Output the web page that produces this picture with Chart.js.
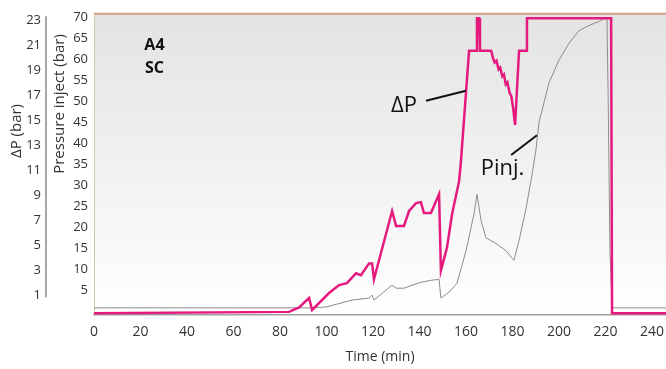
<!DOCTYPE html>
<html>
<head>
<meta charset="utf-8">
<script src="https://cdn.jsdelivr.net/npm/chart.js@4/dist/chart.umd.min.js"></script>
<style>
  html, body { margin: 0; padding: 0; background: #fff; }
  #wrap { width: 666px; height: 369px; }
</style>
</head>
<body>
<div id="wrap"><canvas id="chart" width="666" height="369"></canvas></div>
<script>
// time axis in minutes
const xTicks = [0, 20, 40, 60, 80, 100, 120, 140, 160, 180, 200, 220, 240]
const pinjTicks = [5, 10, 15, 20, 25, 30, 35, 40, 45, 50, 55, 60, 65, 70]
const dpTicks = [1, 3, 5, 7, 9, 11, 13, 15, 17, 19, 21, 23]

// ΔP (bar)
const dpTime = [0, 83.9, 88.2, 92.5, 93.8, 101.1, 105.4, 108.8, 112.7, 114.8, 118.3, 119.6, 120.4,
  128.2, 129.9, 133.3, 135.5, 138.5, 140.6, 141.9, 144.9, 148.4, 149.2, 151.8, 154.0, 157.0, 157.8,
  161.3, 164.3, 164.7, 165.6, 166.0, 170.8, 171.6, 172.3, 173.1, 174.0, 174.7, 175.6, 176.3,
  177.1, 177.8, 178.7, 179.5, 180.3, 181.1,
  182.8, 185.8, 186.2, 222.4, 222.8, 246]
const dpValues = [-0.45, -0.35, 0.0, 0.76, -0.2, 1.16, 1.79, 1.95, 2.74, 2.58, 3.53, 3.53, 2.26,
  7.72, 6.53, 6.53, 7.72, 8.35, 8.43, 7.56, 7.56, 9.07, 2.97, 4.79, 7.48, 10.09, 11.67,
  20.54, 20.54, 23.15, 23.15, 20.54, 20.54, 19.95, 19.6, 19.75, 19.05, 19.2, 18.5, 18.65,
  17.85, 18.0, 17.2, 16.9, 15.9, 14.6,
  20.54, 20.54, 23.15, 23.15, -0.45, -0.45]

// Pressure inject (bar), grey trace
const pinjTime = [0, 92.5, 99.8, 111.0, 118.3, 119.6, 120.4, 128.2, 129.9, 133.3, 135.5, 140.6,
  144.9, 148.4, 149.2, 152.7, 156.1, 160.0, 163.4, 164.7, 166.5, 168.6, 172.9, 177.2, 180.6,
  182.8, 185.8, 188.4, 190.1, 191.4, 195.7, 200.0, 204.3, 208.6, 212.9, 217.2, 219.4, 220.6,
  221.1, 221.9, 222.8, 246]
const pinjValues = [0.8, 0.8, 1.0, 2.66, 3.13, 3.83, 2.66, 6.18, 5.48, 5.48, 5.95, 6.89,
  7.36, 7.59, 3.13, 4.54, 6.65, 14.4, 23.1, 27.8, 21.5, 17.5, 16.1, 14.4, 12.1,
  16.8, 24.5, 32.5, 38.6, 45.0, 54.4, 59.8, 63.8, 66.8, 68.0, 69.0, 69.7, 69.7,
  52.0, 14.4, 0.8, 0.8]

const FONT = "'Open Sans', 'DejaVu Sans', sans-serif"

const toPoints = (xs, ys) => xs.map((x, i) => ({ x: x, y: ys[i] }))

const decor = {
  id: 'decor',
  beforeDraw(chart) {
    const { ctx, chartArea: a } = chart
    const g = ctx.createLinearGradient(0, a.top, 0, a.bottom)
    g.addColorStop(0, '#e3e3e3')
    g.addColorStop(1, '#ffffff')
    ctx.save()
    ctx.fillStyle = g
    ctx.fillRect(a.left, a.top, a.right - a.left, a.bottom - a.top)
    ctx.restore()
  },
  afterDraw(chart) {
    const { ctx, chartArea: a } = chart
    const x = chart.scales.x
    const yP = chart.scales.yPinj
    const yD = chart.scales.yDp
    ctx.save()
    // top frame line
    ctx.strokeStyle = '#cf9f86'
    ctx.lineWidth = 2
    ctx.beginPath()
    ctx.moveTo(a.left, a.top)
    ctx.lineTo(a.right, a.top)
    ctx.stroke()

    // ΔP axis line
    ctx.strokeStyle = '#8a8a8a'
    ctx.lineWidth = 1.5
    ctx.beginPath()
    ctx.moveTo(yD.right, yD.getPixelForValue(23.3))
    ctx.lineTo(yD.right, yD.getPixelForValue(0.8))
    ctx.stroke()

    // axis titles
    ctx.fillStyle = '#333'
    ctx.textAlign = 'center'
    ctx.textBaseline = 'middle'
    ctx.font = '15px ' + FONT
    ctx.save()
    ctx.translate(yD.left + 17, 131)
    ctx.rotate(-Math.PI / 2)
    ctx.fillText('ΔP (bar)', 0, 0)
    ctx.restore()
    ctx.save()
    ctx.translate(yP.left + 14, 104)
    ctx.rotate(-Math.PI / 2)
    ctx.fillText('Pressure inject (bar)', 0, 0)
    ctx.restore()

    // sample label
    ctx.fillStyle = '#111'
    ctx.font = 'bold 16px ' + FONT
    ctx.fillText('A4', x.getPixelForValue(26), yP.getPixelForValue(63.3))
    ctx.fillText('SC', x.getPixelForValue(26), yP.getPixelForValue(57.8))

    // series callouts
    ctx.font = '22px ' + FONT
    ctx.fillText('ΔP', x.getPixelForValue(133.3), yP.getPixelForValue(48.9))
    ctx.textAlign = 'left'
    ctx.fillText('Pinj.', x.getPixelForValue(166.3), yP.getPixelForValue(33.8))
    ctx.strokeStyle = '#111'
    ctx.lineWidth = 2
    ctx.beginPath()
    ctx.moveTo(x.getPixelForValue(142.8), yP.getPixelForValue(50.1))
    ctx.lineTo(x.getPixelForValue(160.0), yP.getPixelForValue(52.5))
    ctx.moveTo(x.getPixelForValue(179.4), yP.getPixelForValue(37.2))
    ctx.lineTo(x.getPixelForValue(190.5), yP.getPixelForValue(41.9))
    ctx.stroke()
    ctx.restore()
  }
}

const ctx = document.getElementById('chart').getContext('2d')
new Chart(ctx, {
  type: 'line',
  data: {
    datasets: [{
      label: 'ΔP',
      data: toPoints(dpTime, dpValues),
      yAxisID: 'yDp',
      borderColor: '#e41a7f',
      borderWidth: 2.5,
      pointRadius: 0,
      tension: 0
    }, {
      label: 'Pinj.',
      data: toPoints(pinjTime, pinjValues),
      yAxisID: 'yPinj',
      borderColor: '#8c8c8c',
      borderWidth: 1,
      pointRadius: 0,
      tension: 0
    }]
  },
  options: {
    responsive: false,
    animation: false,
    layout: { padding: { top: 10, right: 0, bottom: 0, left: 0 } },
    plugins: { legend: { display: false }, tooltip: { enabled: false } },
    scales: {
      x: {
        type: 'linear',
        min: 0,
        max: 246,
        afterBuildTicks: s => { s.ticks = xTicks.map(v => ({ value: v })) },
        afterFit: s => { s.height = 54; s.paddingLeft = 0; s.paddingRight = 0 },
        grid: { display: false, drawTicks: false },
        border: { display: true, color: '#a0a0a0', width: 1.5 },
        ticks: { padding: 9, color: '#333', font: { family: FONT, size: 14 } },
        title: {
          display: true, text: 'Time (min)', color: '#333',
          font: { family: FONT, size: 14 }, padding: { top: 2, bottom: 4 }
        }
      },
      yPinj: {
        type: 'linear',
        position: 'left',
        weight: 0,
        min: -0.9,
        max: 70.8,
        afterBuildTicks: s => { s.ticks = pinjTicks.map(v => ({ value: v })) },
        afterFit: s => { s.width = 48 },
        grid: { display: false, drawTicks: false },
        border: { display: true, color: '#d2cc9e', width: 1 },
        ticks: { padding: 6, color: '#333', font: { family: FONT, size: 13 } }
      },
      yDp: {
        type: 'linear',
        position: 'left',
        weight: 1,
        min: -0.6,
        max: 23.5,
        afterBuildTicks: s => { s.ticks = dpTicks.map(v => ({ value: v })) },
        afterFit: s => { s.width = 46 },
        grid: { display: false, drawTicks: false },
        border: { display: false },
        ticks: { padding: 5, color: '#333', font: { family: FONT, size: 13 } }
      }
    }
  },
  plugins: [decor]
})
</script>
</body>
</html>
